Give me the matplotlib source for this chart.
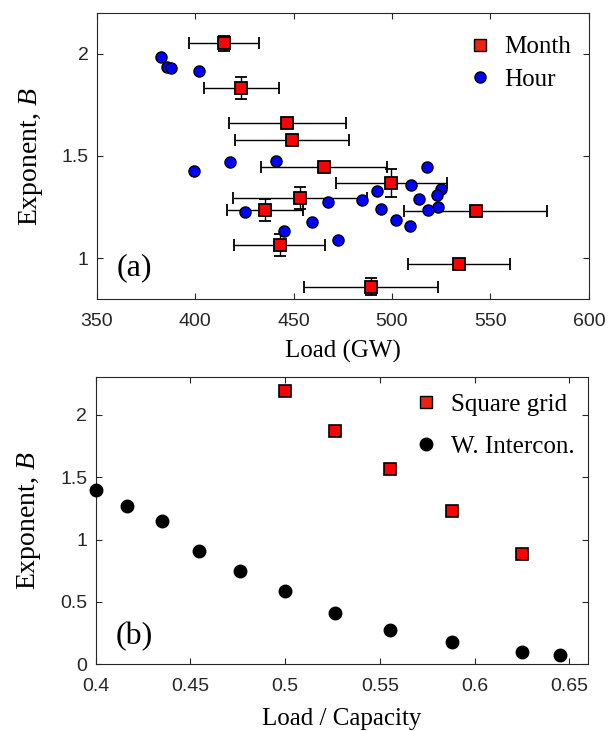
import matplotlib
matplotlib.use("Agg")
import matplotlib.pyplot as plt
from matplotlib.lines import Line2D

plt.rcParams["mathtext.fontset"] = "custom"
plt.rcParams["mathtext.rm"] = "Liberation Serif"
plt.rcParams["mathtext.it"] = "Liberation Serif:italic"

# ---- Panel (a) data ----
month_load = [414.8, 423.4, 446.8, 449.1, 465.5, 499.7, 453.2, 435.6, 542.4, 442.9, 534.1, 489.1]
month_B = [2.05, 1.831, 1.662, 1.576, 1.444, 1.369, 1.295, 1.236, 1.231, 1.063, 0.973, 0.862]
month_load_err = [17.7, 19.0, 29.8, 29.0, 32.0, 28.0, 34.0, 19.4, 36.3, 23.0, 26.0, 34.0]
month_B_err = [0.035, 0.055, 0.012, 0.015, 0.02, 0.067, 0.054, 0.054, 0.01, 0.054, 0.01, 0.041]

hour_load = [382.5, 385.5, 387.7, 401.8, 399.4, 417.5, 440.9, 518.0, 509.4, 492.3, 525.1, 522.7,
             513.6, 485.0, 467.3, 494.5, 523.2, 518.3, 425.1, 459.4, 502.1, 508.9, 444.9, 472.8]
hour_B = [1.982, 1.934, 1.930, 1.914, 1.429, 1.470, 1.477, 1.444, 1.356, 1.327, 1.339, 1.311,
          1.290, 1.285, 1.273, 1.239, 1.252, 1.234, 1.226, 1.178, 1.185, 1.160, 1.132, 1.088]

# ---- Panel (b) data ----
grid_lc = [0.5, 0.5263, 0.5556, 0.5882, 0.625]
grid_B = [2.19, 1.872, 1.565, 1.231, 0.884]
wi_lc = [0.4, 0.4167, 0.4348, 0.4545, 0.4762, 0.5, 0.5263, 0.5556, 0.5882, 0.625, 0.6452]
wi_B = [1.399, 1.271, 1.146, 0.905, 0.748, 0.590, 0.411, 0.272, 0.181, 0.099, 0.077]

xticks_a = [350, 400, 450, 500, 550, 600]
yticks_a = [1, 1.5, 2]
xticks_b = [0.4, 0.45, 0.5, 0.55, 0.6, 0.65]
yticks_b = [0, 0.5, 1, 1.5, 2]

serif = "Liberation Serif"
sans = "Liberation Sans"
tc = "#262626"

fig = plt.figure(figsize=(6.09, 7.31), dpi=100)
ax1 = fig.add_axes([0.1588, 0.5906, 0.8082, 0.3912])
ax2 = fig.add_axes([0.157, 0.0912, 0.809, 0.3927])

def style(ax):
    for s in ax.spines.values():
        s.set_color(tc)
        s.set_linewidth(0.8)
    ax.tick_params(direction="in", top=True, right=True, length=4, width=0.8,
                   colors=tc, labelsize=14)
    ax.tick_params(axis="x", pad=10)
    ax.tick_params(axis="y", pad=6)
    for lab in ax.get_xticklabels() + ax.get_yticklabels():
        lab.set_fontfamily(sans)

# Panel (a)
ax1.errorbar(month_load, month_B, xerr=month_load_err, yerr=month_B_err, fmt="none",
             ecolor="black", elinewidth=1.0, capsize=4.5, capthick=1.3, zorder=2)
ax1.plot(hour_load, hour_B, "o", ms=8, mfc="#0000FF", mec="black", mew=1.0, ls="none", zorder=3)
ax1.plot(month_load, month_B, "s", ms=8, mfc="#FF0000", mec="black", mew=1.3, ls="none", zorder=4)
ax1.set_xlim(350, 600)
ax1.set_ylim(0.8, 2.197)
ax1.set_xticks(xticks_a)
ax1.set_yticks(yticks_a)
ax1.set_xticklabels([str(v) for v in xticks_a])
ax1.set_yticklabels(["1", "1.5", "2"])
style(ax1)
ax1.set_xlabel("Load (GW)", fontfamily=serif, fontsize=18, labelpad=7)
ax1.set_ylabel("Exponent, $\\mathit{B}$", fontfamily=serif, fontsize=20, labelpad=12)
ax1.text(0.04, 0.085, "(a)", transform=ax1.transAxes, fontfamily=serif, fontsize=23)
h1 = [Line2D([], [], marker="s", ls="none", ms=8, mfc="#EE2211", mec="black", mew=1.0),
      Line2D([], [], marker="o", ls="none", ms=8, mfc="#0000FF", mec="black", mew=1.0)]
ax1.legend(h1, ["Month", "Hour"], loc="upper right", bbox_to_anchor=(1.0, 0.9825),
           frameon=False, prop={"family": serif, "size": 18}, handletextpad=0.5,
           labelspacing=0.4, borderaxespad=0.3, handlelength=1.0)

# Panel (b)
ax2.plot(wi_lc, wi_B, "o", ms=9, mfc="black", mec="black", ls="none", clip_on=False, zorder=3)
ax2.plot(grid_lc, grid_B, "s", ms=8, mfc="#FF0000", mec="black", mew=1.2, ls="none", zorder=4)
ax2.set_xlim(0.4, 0.66)
ax2.set_ylim(0, 2.3)
ax2.set_xticks(xticks_b)
ax2.set_yticks(yticks_b)
ax2.set_xticklabels(["0.4", "0.45", "0.5", "0.55", "0.6", "0.65"])
ax2.set_yticklabels(["0", "0.5", "1", "1.5", "2"])
style(ax2)
ax2.set_xlabel("Load / Capacity", fontfamily=serif, fontsize=18, labelpad=9)
ax2.set_ylabel("Exponent, $\\mathit{B}$", fontfamily=serif, fontsize=20, labelpad=12)
ax2.text(0.04, 0.07, "(b)", transform=ax2.transAxes, fontfamily=serif, fontsize=23)
h2 = [Line2D([], [], marker="s", ls="none", ms=8, mfc="#EE2211", mec="black", mew=1.0),
      Line2D([], [], marker="o", ls="none", ms=9, mfc="black", mec="black")]
ax2.legend(h2, ["Square grid", "W. Intercon."], loc="upper right", bbox_to_anchor=(1.0, 0.993),
           frameon=False, prop={"family": serif, "size": 18}, handletextpad=0.5,
           labelspacing=0.8, borderaxespad=0.15, handlelength=1.0)

fig.savefig("out.png", dpi=100)
